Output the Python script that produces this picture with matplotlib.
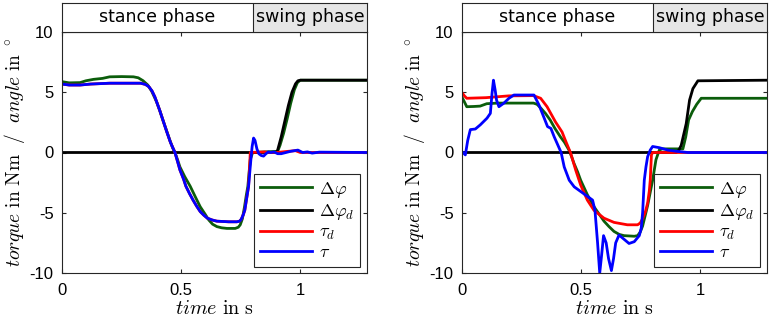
import numpy as np
import matplotlib
matplotlib.use("Agg")
import matplotlib.pyplot as plt

plt.rcParams['mathtext.fontset'] = 'cm'
plt.rcParams['axes.unicode_minus'] = False
plt.rcParams['font.family'] = 'Liberation Sans'

# ---- left panel data ----
t_phi_l = [0, 0.03, 0.076, 0.1, 0.132, 0.17, 0.2, 0.25, 0.3, 0.32, 0.34, 0.36, 0.376, 0.397,
           0.41, 0.425, 0.44, 0.453, 0.464, 0.474, 0.485, 0.495, 0.515, 0.538, 0.56, 0.58,
           0.6, 0.616, 0.632, 0.65, 0.67, 0.692, 0.727, 0.74, 0.748, 0.757, 0.766, 0.773,
           0.78, 0.79, 0.8, 0.905, 0.915, 0.93, 0.945, 0.96, 0.975, 0.988, 1.0, 1.28]
phi_l = [5.88, 5.78, 5.8, 5.95, 6.07, 6.15, 6.28, 6.3, 6.28, 6.2, 5.96, 5.6, 5.1, 4.2,
         3.5, 2.6, 1.75, 1.0, 0.4, 0.0, -0.6, -1.2, -2.0, -2.8, -3.7, -4.5,
         -5.1, -5.6, -5.95, -6.15, -6.25, -6.3, -6.3, -6.2, -6.0, -5.5, -4.5, -3.6,
         -2.8, -0.6, 0.0, 0.1, 0.6, 1.6, 2.8, 4.1, 5.2, 5.8, 6.0, 6.0]

t_phid_l = [0, 0.9, 0.905, 0.92, 0.935, 0.95, 0.965, 0.98, 0.99, 1.0, 1.28]
phid_l = [0, 0, 0.2, 1.3, 2.6, 3.9, 5.0, 5.7, 5.95, 6.0, 6.0]

t_taud_l = [0, 0.03, 0.076, 0.12, 0.2, 0.33, 0.35, 0.364, 0.378, 0.39, 0.41, 0.425, 0.44,
            0.455, 0.474, 0.485, 0.495, 0.51, 0.52, 0.535, 0.55, 0.565, 0.58, 0.595, 0.61,
            0.63, 0.65, 0.7, 0.734, 0.745, 0.752, 0.76, 0.767, 0.775, 0.783, 0.789, 0.79,
            0.85, 0.87, 0.9, 0.95, 0.98, 1.0, 1.28]
taud_l = [5.68, 5.6, 5.6, 5.68, 5.75, 5.75, 5.65, 5.47, 5.1, 4.6, 3.5, 2.6, 1.7,
          0.85, 0.0, -0.75, -1.45, -2.2, -2.8, -3.4, -3.95, -4.45, -4.9, -5.2, -5.45,
          -5.6, -5.7, -5.75, -5.75, -5.7, -5.55, -5.2, -4.8, -3.8, -2.8, -0.5, 0.0,
          0.05, 0.0, 0.0, 0.1, 0.15, 0.0, 0.0]

t_tau_l = [0, 0.03, 0.076, 0.12, 0.2, 0.33, 0.35, 0.364, 0.378, 0.39, 0.41, 0.425, 0.44,
           0.455, 0.474, 0.485, 0.495, 0.51, 0.52, 0.535, 0.55, 0.565, 0.58, 0.595, 0.61,
           0.63, 0.65, 0.7, 0.734, 0.745, 0.752, 0.76, 0.767, 0.775, 0.783, 0.79, 0.794,
           0.798, 0.804, 0.81, 0.818, 0.826, 0.836, 0.846, 0.856, 0.866, 0.876, 0.89,
           0.905, 0.92, 0.94, 0.96, 0.975, 0.99, 1.0, 1.01, 1.03, 1.05, 1.08, 1.28]
tau_l = [5.68, 5.6, 5.6, 5.68, 5.75, 5.75, 5.65, 5.47, 5.1, 4.6, 3.5, 2.6, 1.7,
         0.85, 0.0, -0.75, -1.45, -2.2, -2.8, -3.4, -3.95, -4.45, -4.9, -5.2, -5.45,
         -5.6, -5.7, -5.75, -5.75, -5.7, -5.55, -5.2, -4.8, -3.8, -2.8, -1.2, -0.3,
         0.5, 1.2, 1.0, 0.3, -0.1, -0.25, -0.3, -0.1, 0.05, 0.0, 0.05,
         -0.1, -0.1, 0.0, 0.1, 0.15, 0.2, 0.1, 0.0, 0.05, -0.05, 0.03, 0.0]

# ---- right panel data ----
t_phi_r = [0, 0.01, 0.02, 0.05, 0.076, 0.104, 0.15, 0.3, 0.315, 0.33, 0.35, 0.37, 0.39,
           0.413, 0.43, 0.449, 0.46, 0.47, 0.485, 0.498, 0.512, 0.526, 0.54, 0.554, 0.575,
           0.596, 0.617, 0.638, 0.66, 0.68, 0.723, 0.737, 0.748, 0.758, 0.768, 0.779, 0.79,
           0.8, 0.814, 0.828, 0.84, 0.927, 0.939, 0.951, 0.967, 0.985, 1.004, 1.28]
phi_r = [4.6, 4.2, 3.8, 3.82, 3.85, 4.05, 4.1, 4.1, 4.0, 3.7, 3.25, 2.7, 2.0,
         1.3, 0.85, 0.2, -0.35, -0.9, -1.6, -2.3, -2.9, -3.5, -4.0, -4.5, -5.1,
         -5.7, -6.15, -6.55, -6.8, -6.9, -6.95, -6.9, -6.6, -6.1, -5.3, -4.4, -3.3,
         -2.3, -0.6, 0.2, 0.3, 0.3, 1.3, 2.7, 3.4, 4.0, 4.5, 4.5]

t_phid_r = [0, 0.899, 0.91, 0.92, 0.941, 0.955, 0.969, 0.99, 1.28]
phid_r = [0, 0, 0.2, 0.6, 2.4, 4.35, 5.3, 5.95, 6.0]

t_taud_r = [0, 0.01, 0.02, 0.1, 0.197, 0.3, 0.33, 0.357, 0.392, 0.42, 0.434, 0.456, 0.477,
            0.498, 0.526, 0.554, 0.596, 0.638, 0.694, 0.737, 0.748, 0.758, 0.77, 0.779,
            0.786, 0.79, 0.795, 0.8, 1.28]
taud_r = [4.97, 4.7, 4.5, 4.55, 4.7, 4.72, 4.5, 3.8, 2.55, 1.7, 1.0, -0.05, -1.45,
          -2.7, -3.95, -4.8, -5.45, -5.8, -6.0, -6.0, -5.85, -5.5, -4.9, -4.2,
          -3.2, -2.3, -0.2, 0.0, 0.0]

t_tau_r = [0, 0.014, 0.024, 0.035, 0.056, 0.077, 0.105, 0.119, 0.126, 0.132, 0.139, 0.145,
           0.155, 0.176, 0.197, 0.218, 0.302, 0.323, 0.345, 0.359, 0.373, 0.387, 0.416,
           0.429, 0.45, 0.471, 0.499, 0.527, 0.548, 0.558, 0.569, 0.578, 0.586, 0.594,
           0.605, 0.615, 0.627, 0.636, 0.645, 0.659, 0.68, 0.701, 0.723, 0.744, 0.752,
           0.758, 0.765, 0.772, 0.779, 0.79, 0.8, 0.828, 0.864, 0.9, 0.948, 1.0, 1.28]
tau_r = [0.07, -0.2, 1.0, 1.9, 1.95, 2.3, 2.85, 3.25, 4.9, 6.0, 5.2, 4.35,
         3.8, 4.1, 4.5, 4.77, 4.77, 3.95, 2.85, 2.15, 2.0, 1.3, 0.0,
         -1.2, -2.3, -2.85, -3.25, -3.65, -3.95, -4.8, -7.5, -10.0, -8.5, -6.9,
         -7.5, -8.8, -9.8, -8.8, -7.5, -6.85, -7.2, -7.55, -7.4, -6.9, -6.3,
         -5.0, -2.3, -1.2, -0.35, 0.2, 0.5, 0.4, 0.2, 0.1, 0.0, 0.0, 0.0]

panels = [
    (t_phi_l, phi_l, t_phid_l, phid_l, t_taud_l, taud_l, t_tau_l, tau_l),
    (t_phi_r, phi_r, t_phid_r, phid_r, t_taud_r, taud_r, t_tau_r, tau_r),
]

fig = plt.figure(figsize=(7.71, 3.22), dpi=100)
lefts = [62 / 771, 462 / 771]
width = 305 / 771
spine_col = '#262626'

for left, (tp, p, tpd, pd, ttd, td, tt, tau) in zip(lefts, panels):
    ax = fig.add_axes([left, 1 - 273 / 322, width, 241 / 322])
    ax.plot(tp, p, color='#0b5d0b', lw=2, label=r'$\Delta\varphi$')
    ax.plot(tpd, pd, color='black', lw=2, label=r'$\Delta\varphi_d$')
    ax.plot(ttd, td, color='#ff0000', lw=2, label=r'$\tau_d$')
    ax.plot(tt, tau, color='#0000ff', lw=2, label=r'$\tau$')
    ax.set_xlim(0, 1.28)
    ax.set_ylim(-10, 10)
    ax.set_xticks([0, 0.5, 1])
    ax.set_xticklabels(['0', '0.5', '1'])
    ax.set_yticks([-10, -5, 0, 5, 10])
    ax.tick_params(direction='in', top=True, right=True, length=3, labelsize=12,
                   color=spine_col)
    ax.tick_params(axis='x', pad=7)
    ax.tick_params(axis='y', pad=6)
    for s in ax.spines.values():
        s.set_color(spine_col)
        s.set_linewidth(0.8)
    ax.set_xlabel(r'$time\ \mathrm{in\ s}$', fontsize=14.5, labelpad=1)
    ax.set_ylabel(r'$torque\ \mathrm{in\ Nm}\ \ \mathsf{/}\ \ angle\ \mathrm{in}\ ^\circ$',
                  fontsize=14, labelpad=2)
    leg = ax.legend(loc='lower right', bbox_to_anchor=(0.978, 0.026), fontsize=13,
                    handlelength=2.9, fancybox=False, framealpha=1, borderaxespad=0,
                    labelspacing=0.12, handletextpad=0.4, borderpad=0.3)
    leg.get_frame().set_edgecolor(spine_col)
    leg.get_frame().set_linewidth(0.8)

    hx = fig.add_axes([left, 1 - 32 / 322, width, 29 / 322])
    hx.set_xlim(0, 1.28)
    hx.set_ylim(0, 1)
    hx.axvspan(0.8, 1.28, color='#e6e6e6', lw=0)
    hx.axvline(0.8, color=spine_col, lw=0.8)
    hx.text(0.4, 0.5, 'stance phase', ha='center', va='center', fontsize=12.5,
            family='DejaVu Sans')
    hx.text(1.04, 0.5, 'swing phase', ha='center', va='center', fontsize=12.5,
            family='DejaVu Sans')
    hx.set_xticks([])
    hx.set_yticks([])
    for s in hx.spines.values():
        s.set_color(spine_col)
        s.set_linewidth(0.8)

fig.savefig('out.png', dpi=100)
